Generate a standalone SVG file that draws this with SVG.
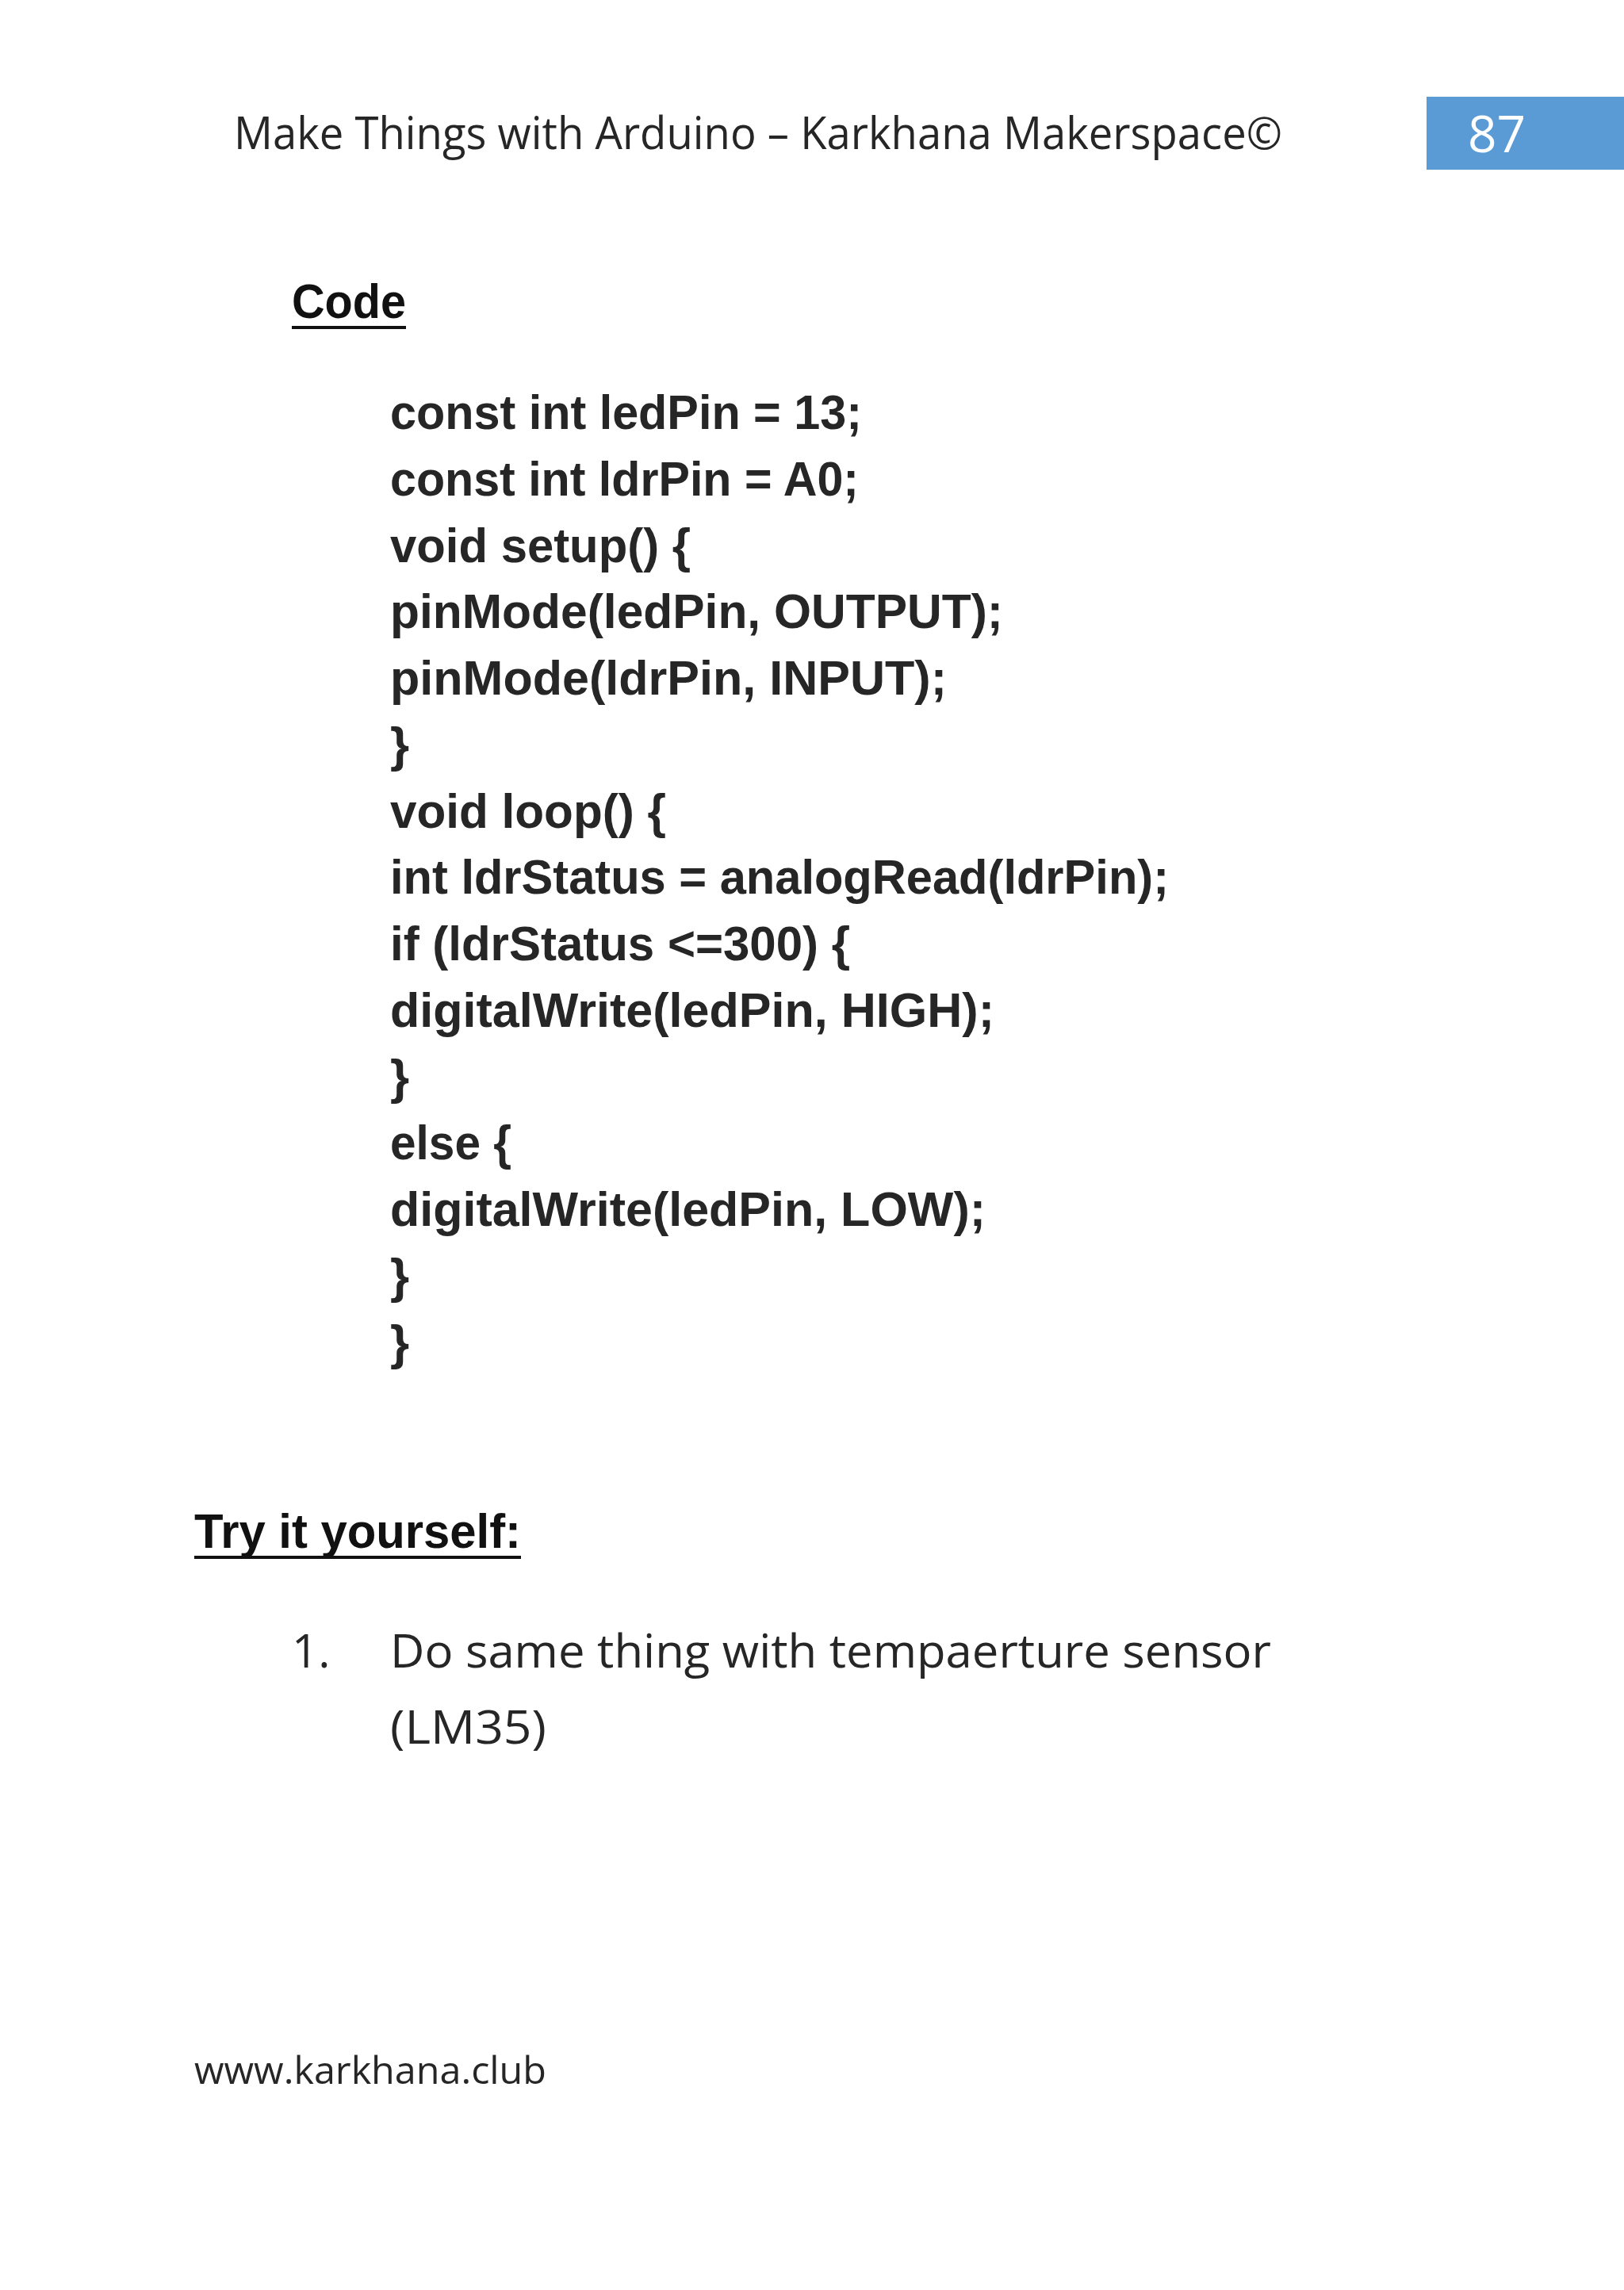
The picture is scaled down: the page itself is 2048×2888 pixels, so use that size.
<svg xmlns="http://www.w3.org/2000/svg" width="2048" height="2888" viewBox="0 0 2048 2888">
<style>
text{font-family:"Open Sans","Liberation Sans",sans-serif;fill:#262626}
.c{font-weight:bold;font-size:62px;font-family:"Liberation Sans",sans-serif}
.h{font-weight:bold;font-size:62px;font-family:"Liberation Sans",sans-serif;fill:#111}
.u{stroke:#111;stroke-width:4}
</style>
<rect width="2048" height="2888" fill="#fff"/>
<g id="header">
<text x="295" y="188" font-size="56" textLength="1322" lengthAdjust="spacingAndGlyphs">Make Things with Arduino – Karkhana Makerspace©</text>
<rect x="1799" y="122" width="249" height="92" fill="#5b9bd5"/>
<text x="1851" y="192" font-size="64" style="fill:#fff">87</text>
</g>
<g id="code-title">
<text class="h" x="368" y="401" textLength="144" lengthAdjust="spacingAndGlyphs">Code</text>
<line class="u" x1="368" y1="413" x2="512" y2="413"/>
</g>
<g id="code" class="c">
<text class="c" x="492" y="541" textLength="595" lengthAdjust="spacingAndGlyphs">const int ledPin = 13;</text>
<text class="c" x="492" y="625" textLength="591" lengthAdjust="spacingAndGlyphs">const int ldrPin = A0;</text>
<text class="c" x="492" y="709" textLength="379" lengthAdjust="spacingAndGlyphs">void setup() {</text>
<text class="c" x="492" y="792" textLength="773" lengthAdjust="spacingAndGlyphs">pinMode(ledPin, OUTPUT);</text>
<text class="c" x="492" y="876" textLength="702" lengthAdjust="spacingAndGlyphs">pinMode(ldrPin, INPUT);</text>
<text class="c" x="492" y="960">}</text>
<text class="c" x="492" y="1044" textLength="348" lengthAdjust="spacingAndGlyphs">void loop() {</text>
<text class="c" x="492" y="1127" textLength="982" lengthAdjust="spacingAndGlyphs">int ldrStatus = analogRead(ldrPin);</text>
<text class="c" x="492" y="1211" textLength="580" lengthAdjust="spacingAndGlyphs">if (ldrStatus &lt;=300) {</text>
<text class="c" x="492" y="1295" textLength="762" lengthAdjust="spacingAndGlyphs">digitalWrite(ledPin, HIGH);</text>
<text class="c" x="492" y="1379">}</text>
<text class="c" x="492" y="1462" textLength="153" lengthAdjust="spacingAndGlyphs">else {</text>
<text class="c" x="492" y="1546" textLength="751" lengthAdjust="spacingAndGlyphs">digitalWrite(ledPin, LOW);</text>
<text class="c" x="492" y="1630">}</text>
<text class="c" x="492" y="1714">}</text>
</g>
<g id="try">
<text class="h" x="245" y="1952" textLength="412" lengthAdjust="spacingAndGlyphs">Try it yourself:</text>
<line class="u" x1="245" y1="1964" x2="657" y2="1964"/>
<text x="368" y="2103" font-size="58">1.</text>
<text x="492" y="2103" font-size="58" textLength="1111" lengthAdjust="spacingAndGlyphs">Do same thing with tempaerture sensor</text>
<text x="492" y="2199" font-size="58" textLength="197" lengthAdjust="spacingAndGlyphs">(LM35)</text>
</g>
<g id="footer">
<text x="245" y="2628" font-size="48" textLength="444" lengthAdjust="spacingAndGlyphs">www.karkhana.club</text>
</g>
</svg>
